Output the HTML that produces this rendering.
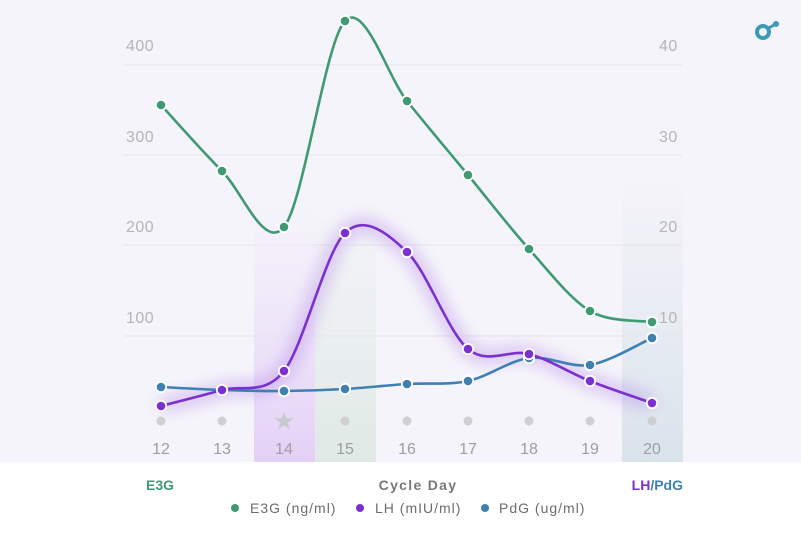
<!DOCTYPE html>
<html><head><meta charset="utf-8"><style>
html,body{margin:0;padding:0;background:#fff;}
body{width:801px;height:533px;overflow:hidden;font-family:"Liberation Sans",sans-serif;}
</style></head><body>
<svg id="s" width="801" height="533" viewBox="0 0 801 533" xmlns="http://www.w3.org/2000/svg" font-family="Liberation Sans, sans-serif">
<defs>
<linearGradient id="gp" x1="0" y1="0" x2="0" y2="1"><stop offset="0" stop-color="#e9dcf8" stop-opacity="0"/><stop offset="1" stop-color="#e4d0f7"/></linearGradient>
<linearGradient id="gg" x1="0" y1="0" x2="0" y2="1"><stop offset="0" stop-color="#e3ece8" stop-opacity="0"/><stop offset="1" stop-color="#dfe9e5"/></linearGradient>
<linearGradient id="gb" x1="0" y1="0" x2="0" y2="1"><stop offset="0" stop-color="#dde6ee" stop-opacity="0"/><stop offset="1" stop-color="#d9e3eb"/></linearGradient>
<filter id="glow" x="-20%" y="-20%" width="140%" height="140%"><feGaussianBlur stdDeviation="8"/></filter>
</defs>
<rect x="0" y="0" width="801" height="462" fill="#f5f4fa"/>
<rect x="254" y="200" width="61" height="262" fill="url(#gp)"/>
<rect x="315" y="200" width="61" height="262" fill="url(#gg)"/>
<rect x="622" y="170" width="61" height="292" fill="url(#gb)"/>
<g stroke="#e6e5ea" stroke-width="1">
<line x1="124" y1="65" x2="682" y2="65"/><line x1="124" y1="155" x2="682" y2="155"/>
<line x1="124" y1="245" x2="682" y2="245"/><line x1="124" y1="336" x2="682" y2="336"/>
</g>
<g fill="#b5b4b9" font-size="16" letter-spacing="0.5">
<text x="126" y="51">400</text><text x="126" y="142">300</text><text x="126" y="232">200</text><text x="126" y="323">100</text>
<text x="659" y="51">40</text><text x="659" y="142">30</text><text x="659" y="232">20</text><text x="659" y="323">10</text>
</g>
<g id="lines"></g>
<g id="days" fill="#9e9da3" font-size="16" text-anchor="middle"></g>
<circle cx="763" cy="32" r="6" fill="none" stroke="#3d9ab5" stroke-width="4"/>
<line x1="767" y1="29" x2="774" y2="25" stroke="#3d9ab5" stroke-width="3"/>
<circle cx="776" cy="24" r="3" fill="#3d9ab5"/>
<text x="146" y="490" fill="#3f9a73" font-size="14" font-weight="bold">E3G</text>
<text x="418" y="490" fill="#777" font-size="14" font-weight="bold" text-anchor="middle" letter-spacing="1.3">Cycle Day</text>
<text x="683" y="490" font-size="14" font-weight="bold" text-anchor="end"><tspan fill="#7c30d0">LH</tspan><tspan fill="#3e80b2">/PdG</tspan></text>
<circle cx="235" cy="508" r="4" fill="#3f9a73"/><text x="250" y="513" fill="#6d6d6d" font-size="14" letter-spacing="1">E3G (ng/ml)</text>
<circle cx="360" cy="508" r="4" fill="#7c30d0"/><text x="375" y="513" fill="#6d6d6d" font-size="14" letter-spacing="1">LH (mIU/ml)</text>
<circle cx="485" cy="508" r="4" fill="#3e80b2"/><text x="499" y="513" fill="#6d6d6d" font-size="14" letter-spacing="1">PdG (ug/ml)</text>
</svg>
<script>
var X=[161,222,284,345,407,468,529,590,652];
var E=[105,171,227,21,101,175,249,311,322];
var L=[406,390,371,233,252,349,354,381,403];
var P=[387,390,391,389,384,381,358,365,338];
function path(Y){var d="M"+X[0]+","+Y[0];for(var i=0;i<X.length-1;i++){var x0=X[i-1]!==undefined?X[i-1]:X[i],y0=Y[i-1]!==undefined?Y[i-1]:Y[i];var x3=X[i+2]!==undefined?X[i+2]:X[i+1],y3=Y[i+2]!==undefined?Y[i+2]:Y[i+1];var t=0.16;d+=" C"+(X[i]+(X[i+1]-x0)*t)+","+(Y[i]+(Y[i+1]-y0)*t)+" "+(X[i+1]-(x3-X[i])*t)+","+(Y[i+1]-(y3-Y[i])*t)+" "+X[i+1]+","+Y[i+1];}return d;}
var ns="http://www.w3.org/2000/svg",g=document.getElementById("lines");
function el(n,a){var e=document.createElementNS(ns,n);for(var k in a)e.setAttribute(k,a[k]);g.appendChild(e);return e;}
el("path",{d:path(L),fill:"none",stroke:"#a66ee8","stroke-width":12,opacity:0.45,filter:"url(#glow)"});
[[E,"#3f9a73"],[P,"#3e80b2"],[L,"#7c30d0"]].forEach(function(s){
el("path",{d:path(s[0]),fill:"none",stroke:s[1],"stroke-width":2.6});
X.forEach(function(x,i){el("circle",{cx:x,cy:s[0][i],r:5.2,fill:s[1],stroke:"#fff","stroke-width":1.8});});});
var dg=document.getElementById("days");
X.forEach(function(x,i){
if(i==2){var t=document.createElementNS(ns,"text");t.setAttribute("x",x);t.setAttribute("y",429);t.setAttribute("fill","#c5cbcb");t.setAttribute("font-size","24");t.textContent="★";dg.appendChild(t);}
else{var c=document.createElementNS(ns,"circle");c.setAttribute("cx",x);c.setAttribute("cy",421);c.setAttribute("r",4.5);c.setAttribute("fill","#cfd0d2");dg.appendChild(c);}
var t2=document.createElementNS(ns,"text");t2.setAttribute("x",x);t2.setAttribute("y",454);t2.textContent=12+i;dg.appendChild(t2);});
</script>
</body></html>
